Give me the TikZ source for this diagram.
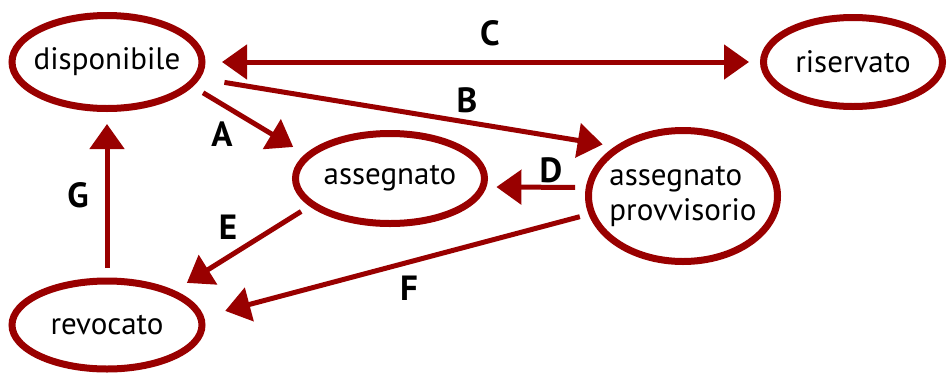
\documentclass[tikz,border=0pt]{standalone}
\usepackage{fontspec}
\setmainfont{PT Sans}
\usetikzlibrary{arrows.meta,shapes.geometric}
\definecolor{statered}{RGB}{153,0,0}
\begin{document}
\begin{tikzpicture}[x=1pt,y=-1pt,
  state/.style={ellipse, draw=statered, line width=7pt, fill=white,
    font=\fontsize{31}{35}\selectfont, align=left,
    inner xsep=-12pt, inner ysep=0pt},
  bigtip/.tip={Triangle[length=25pt,width=34pt]},
  trans/.style={draw=statered, line width=5pt, -bigtip},
  twoway/.style={draw=statered, line width=5pt, bigtip-bigtip},
  tlabel/.style={font=\fontsize{35}{35}\selectfont\bfseries, inner sep=0pt}]
\useasboundingbox (0,0) rectangle (948,373);

% states
\node[state, minimum width=190pt, minimum height=93pt]  (disp) at (107,62)    {disponibile};
\node[state, minimum width=179pt, minimum height=89pt]  (res)  at (853,62)    {riservato};
\node[state, minimum width=189pt, minimum height=90pt]  (asg)  at (390,178.5) {assegnato};
\node[state, minimum width=189pt, minimum height=131pt] (prov) at (683,196)   {assegnato\\provvisorio};
\node[state, minimum width=190pt, minimum height=88pt]  (rev)  at (107,325)   {revocato};

% transitions
\draw[twoway, shorten <=16.5pt, shorten >=11pt] (disp.east) -- (res.west);
\draw[trans, shorten <=24.7pt, shorten >=12.3pt] (disp.-10.4) -- (prov.144.6);
\draw[trans, shorten <=12pt, shorten >=14pt] (disp.-16.2) -- (asg.164.1);
\draw[trans, shorten <=10.7pt, shorten >=9.9pt] (prov.175.3) -- (asg.-5.6);
\draw[trans, shorten <=9.9pt, shorten >=14.3pt] (asg.199.6) -- (rev.27);
\draw[trans, shorten <=9pt, shorten >=22pt] (prov.191.2) -- (rev.5.6);
\draw[trans, shorten <=9.5pt, shorten >=12pt] (rev.north) -- (disp.south);

% transition labels
\node[tlabel] (lA) at (222,134) {A};
\node[tlabel] (lB) at (467,100) {B};
\node[tlabel] (lC) at (490,33)  {C};
\node[tlabel] (lD) at (551,170) {D};
\node[tlabel] (lE) at (228,227) {E};
\node[tlabel] (lF) at (409,288) {F};
\node[tlabel] (lG) at (78,195)  {G};
\end{tikzpicture}
\end{document}
